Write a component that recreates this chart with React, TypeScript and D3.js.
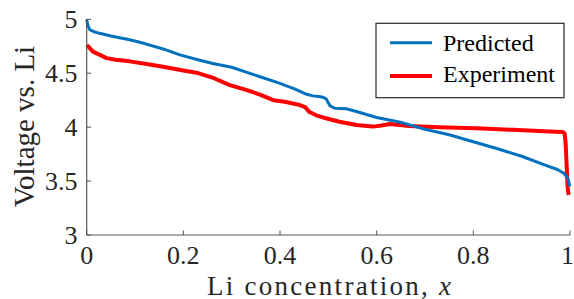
import React from "react";
import * as d3 from "d3";

const predX = [0, 0.002, 0.006, 0.015, 0.027, 0.05, 0.089, 0.12, 0.158, 0.193, 0.23, 0.261, 0.3, 0.33, 0.36, 0.397, 0.43, 0.455, 0.468, 0.48, 0.489, 0.495, 0.503, 0.513, 0.537, 0.558, 0.6, 0.654, 0.7, 0.75, 0.8, 0.85, 0.9, 0.95, 0.975, 0.988, 0.995, 1.0];
const predY = [5.0, 4.95, 4.905, 4.885, 4.87, 4.845, 4.81, 4.775, 4.725, 4.67, 4.625, 4.59, 4.555, 4.51, 4.465, 4.41, 4.355, 4.305, 4.29, 4.285, 4.277, 4.265, 4.2, 4.175, 4.17, 4.145, 4.09, 4.04, 3.98, 3.93, 3.865, 3.8, 3.73, 3.645, 3.605, 3.57, 3.53, 3.45];

const expX = [0, 0.005, 0.013, 0.025, 0.041, 0.06, 0.089, 0.124, 0.158, 0.2, 0.227, 0.26, 0.296, 0.33, 0.36, 0.386, 0.41, 0.441, 0.452, 0.461, 0.475, 0.489, 0.523, 0.558, 0.592, 0.61, 0.627, 0.668, 0.73, 0.806, 0.882, 0.957, 0.985, 0.989, 0.991, 0.993, 0.995, 0.997];
const expY = [4.76, 4.74, 4.7, 4.675, 4.64, 4.625, 4.61, 4.585, 4.56, 4.525, 4.505, 4.46, 4.39, 4.345, 4.3, 4.25, 4.235, 4.205, 4.185, 4.14, 4.11, 4.09, 4.05, 4.02, 4.005, 4.015, 4.03, 4.01, 4.0, 3.99, 3.975, 3.96, 3.955, 3.94, 3.85, 3.65, 3.45, 3.37];

const xTicks = [0, 0.2, 0.4, 0.6, 0.8, 1];
const yTicks = [3, 3.5, 4, 4.5, 5];
const seriesNames = ["Predicted", "Experiment"];
const seriesColors = ["#0072BD", "#FF0000"];

export default function App() {
  const W = 574, H = 299;
  const x = d3.scaleLinear().domain([0, 1]).range([86.7, 570]);
  const y = d3.scaleLinear().domain([3, 5]).range([235, 19.3]);
  const line = d3.line<[number, number]>().x(d => x(d[0])).y(d => y(d[1]));
  const pred = predX.map((v, i) => [v, predY[i]] as [number, number]);
  const exp = expX.map((v, i) => [v, expY[i]] as [number, number]);
  const axisColor = "#262626";
  const serif = { fontFamily: "'Liberation Serif', 'DejaVu Serif', serif" };
  return (
    <svg width={W} height={H} style={{ position: "absolute", left: 0, top: 0, background: "#fff" }}>
      <rect x={0} y={0} width={W} height={H} fill="#fff" />
      <path d={line(exp) || ""} fill="none" stroke={seriesColors[1]} strokeWidth={4} strokeLinejoin="round" />
      <path d={line(pred) || ""} fill="none" stroke={seriesColors[0]} strokeWidth={3} strokeLinejoin="round" />
      <line x1={x(0)} x2={x(0)} y1={y(5)} y2={y(3)} stroke="#555" strokeWidth={1.2} />
      <line x1={x(0)} x2={x(1)} y1={y(3)} y2={y(3)} stroke="#555" strokeWidth={1.2} />
      {xTicks.map(t => (
        <g key={"x" + t}>
          <line x1={x(t)} x2={x(t)} y1={y(3)} y2={y(3) - 4.5} stroke="#555" strokeWidth={1} />
          <text x={t === 1 ? W : x(t)} y={264} textAnchor={t === 1 ? "end" : "middle"} style={serif} fontSize={26} fill={axisColor}>{String(t)}</text>
        </g>
      ))}
      {yTicks.map(t => (
        <g key={"y" + t}>
          <line x1={x(0)} x2={x(0) + 4.5} y1={y(t)} y2={y(t)} stroke="#555" strokeWidth={1} />
          <text x={77.5} y={y(t) + 8.8} textAnchor="end" style={serif} fontSize={26} fill={axisColor}>{String(t)}</text>
        </g>
      ))}
      <text x={329} y={294.5} textAnchor="middle" style={serif} fontSize={27} fill={axisColor} textLength={244} lengthAdjust="spacing">
        Li concentration, <tspan fontStyle="italic">x</tspan>
      </text>
      <text transform={`translate(34,126.5) rotate(-90)`} textAnchor="middle" style={serif} fontSize={29} fill={axisColor}>Voltage vs. Li</text>
      <rect x={376} y={23.3} width={188} height={74.4} fill="#fff" stroke={axisColor} strokeWidth={1.2} />
      {seriesNames.map((n, i) => (
        <g key={n}>
          <line x1={390} x2={432} y1={[42.7, 76][i]} y2={[42.7, 76][i]} stroke={seriesColors[i]} strokeWidth={i === 0 ? 3 : 4} />
          <text x={443} y={[50.8, 81.8][i]} style={serif} fontSize={24} fill="#000">{n}</text>
        </g>
      ))}
    </svg>
  );
}
